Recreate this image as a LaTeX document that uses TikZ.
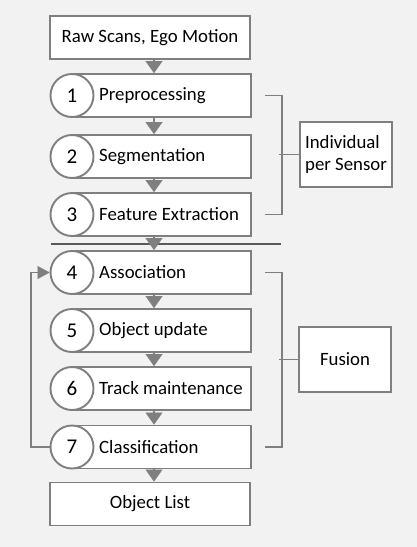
\documentclass[tikz,border=0pt]{standalone}
\usepackage{fontspec}
\setmainfont{Carlito}
\usetikzlibrary{
  arrows.meta,
  positioning,
  calc
}
\definecolor{bordergray}{HTML}{7F7F7F}
\definecolor{rulegray}{HTML}{595959}
\definecolor{bggray}{HTML}{F2F2F2}
\tikzset{
  box/.style={draw=bordergray, line width=1.9pt, fill=white, inner sep=0pt,
    minimum width=200pt, minimum height=43pt, font=\fontsize{18.8}{22}\selectfont},
  stepbox/.style={box, minimum width=178pt, anchor=west},
  stepnum/.style={circle, draw=bordergray, line width=1.9pt, fill=white,
    inner sep=0pt, minimum size=43pt, font=\fontsize{21}{24}\selectfont},
  steptext/.style={anchor=west, inner sep=0pt, font=\fontsize{18.8}{22}\selectfont},
  groupbox/.style={box, minimum width=92pt, minimum height=65pt, align=left},
  flow/.style={draw=bordergray, line width=1.5pt,
    -{Triangle[length=12pt, width=17pt, line width=0.1pt]}},
  back/.style={draw=bordergray, line width=1.9pt,
    -{Triangle[length=12pt, width=13pt, line width=0.1pt]}},
  brace/.style={draw=bordergray, line width=1.9pt}
}

\begin{document}
\begin{tikzpicture}[x=1pt, y=-1pt]
  \def\Xc{150};
  \def\Xs{72};
  \def\Xt{27pt};
  \useasboundingbox[fill=bggray] (0,0) rectangle (417,547);

        % input and output
        \node[box] (scans) at (\Xc, 37.5) {Raw Scans, Ego Motion};
        \node[box] (objects) at (\Xc, 504) {Object List};

        % steps per sensor
        \node[stepbox] (s1) at (\Xs, 95.5) {};
        \node[stepnum] (c1) at (\Xs, 95.5) {1};
        \node[steptext] at ([xshift=\Xt]s1.west) {Preprocessing};

        \node[stepbox] (s2) at (\Xs, 156.5) {};
        \node[stepnum] (c2) at (\Xs, 156.5) {2};
        \node[steptext] at ([xshift=\Xt]s2.west) {Segmentation};

        \node[stepbox] (s3) at (\Xs, 214.5) {};
        \node[stepnum] (c3) at (\Xs, 214.5) {3};
        \node[steptext] at ([xshift=\Xt]s3.west) {Feature Extraction};

        % fusion steps
        \node[stepbox] (s4) at (\Xs, 272.5) {};
        \node[stepnum] (c4) at (\Xs, 272.5) {4};
        \node[steptext] at ([xshift=\Xt]s4.west) {Association};

        \node[stepbox] (s5) at (\Xs, 330.5) {};
        \node[stepnum] (c5) at (\Xs, 330.5) {5};
        \node[steptext] at ([xshift=\Xt]s5.west) {Object update};

        \node[stepbox] (s6) at (\Xs, 388.5) {};
        \node[stepnum] (c6) at (\Xs, 388.5) {6};
        \node[steptext] at ([xshift=\Xt]s6.west) {Track maintenance};

        \node[stepbox] (s7) at (\Xs, 447) {};
        \node[stepnum] (c7) at (\Xs, 447) {7};
        \node[steptext] at ([xshift=\Xt]s7.west) {Classification};

        % groups
        \node[groupbox] (indiv) at (346, 154.5) {Individual\\per Sensor};
        \node[groupbox] (fusion) at (345, 359.5) {Fusion};

        \draw[brace] ([xshift=13pt]s1.east) -- ++(17,0) |- ([xshift=13pt]s3.east);
        \draw[brace] (indiv.west) -- ++(-20,0);
        \draw[brace] ([xshift=13pt]s4.east) -- ++(17,0) |- ([xshift=13pt]s7.east);
        \draw[brace] (fusion.west) -- ++(-19,0);

        \draw[rulegray, line width=1.4pt] (51,244) -- (281,244);

        % flow down
        \coordinate (ax) at (154,0);
        \draw[flow] (scans.south -| ax) -- (s1.north -| ax);
        \draw[flow] (s1.south -| ax) -- (s2.north -| ax);
        \draw[flow] (s2.south -| ax) -- (s3.north -| ax);
        \draw[flow] (s3.south -| ax) -- (s4.north -| ax);
        \draw[flow] (s4.south -| ax) -- (s5.north -| ax);
        \draw[flow] (s5.south -| ax) -- (s6.north -| ax);
        \draw[flow] (s6.south -| ax) -- (s7.north -| ax);
        \draw[flow] (s7.south -| ax) -- (objects.north -| ax);

        % loop back
        \draw[back] (c7.west) -- ++(-19,0) |- (c4.west);
\end{tikzpicture}
\end{document}
